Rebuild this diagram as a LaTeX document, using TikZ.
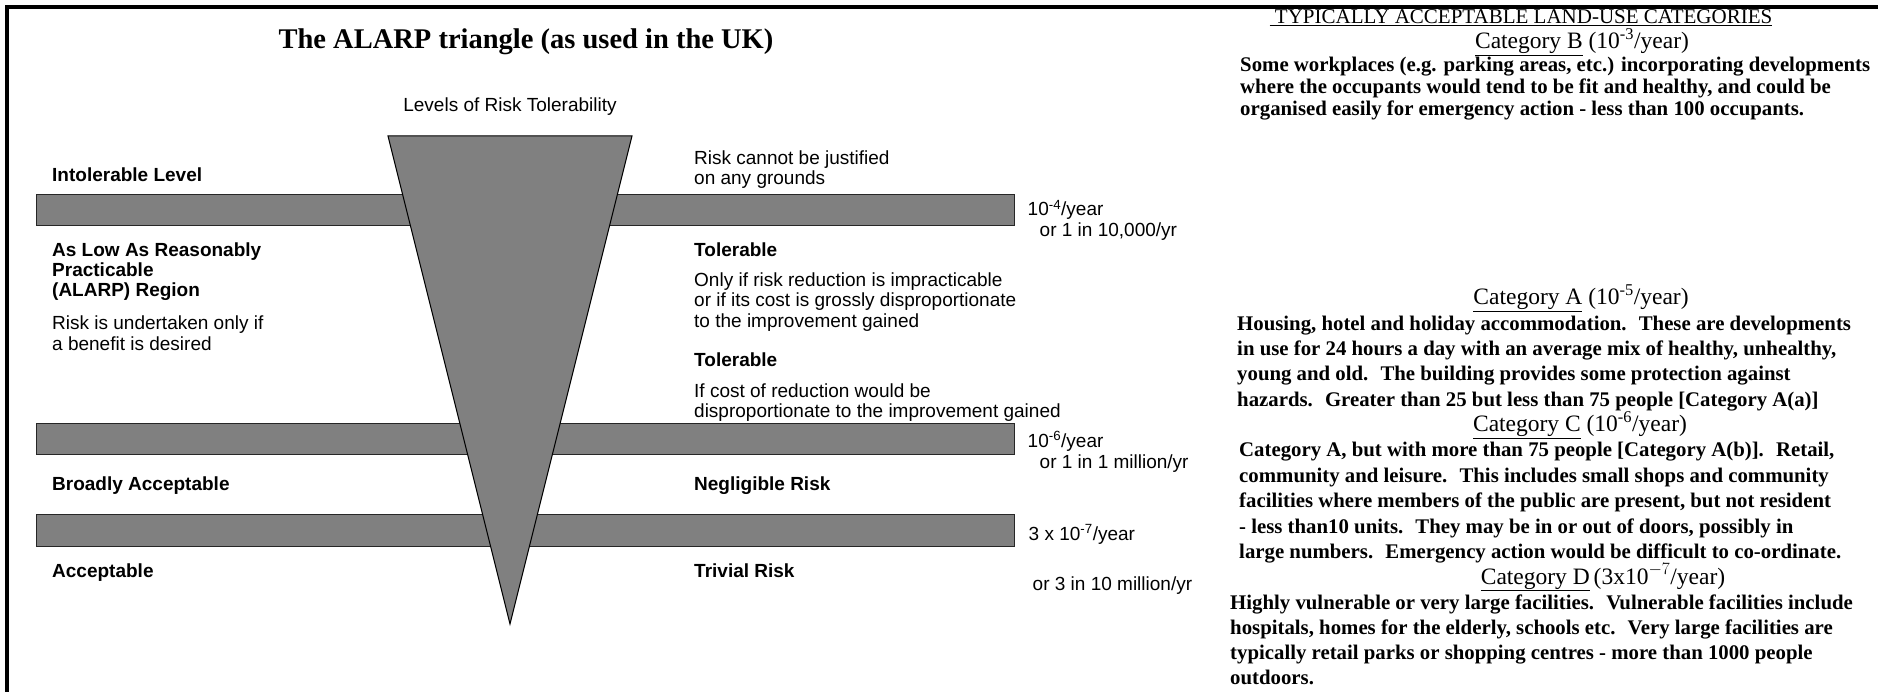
\documentclass[tikz,border=0pt]{standalone}
\usepackage{fontspec}
\setmainfont{Liberation Serif}
\setsansfont{Liberation Sans}
\usetikzlibrary{positioning}

\tikzset{
	band/.style={rectangle, draw=black!85, fill=gray, line width=1pt, minimum width=978, inner sep=0pt},
	txt/.style={anchor=base west, inner sep=0pt, font=\sffamily\fontsize{19}{20}\selectfont},
	txtb/.style={txt, font=\sffamily\bfseries\fontsize{19}{20}\selectfont},
	cat/.style={anchor=base, inner sep=0pt, font=\fontsize{23.5}{25}\selectfont},
	body/.style={anchor=base west, inner sep=0pt, font=\bfseries\fontsize{20.8}{25}\selectfont},
}

\begin{document}
\begin{tikzpicture}[x=1pt,y=-1pt]
		\useasboundingbox (0,0) rectangle (1878,692);
		\draw[line width=4pt] (7,692) -- (7,7) -- (1878,7);
		
		% bars
		\node [band, minimum height=31] (b1) at (525,210.5) {};
		\node [band, minimum height=31] (b2) at (525,438.5) {};
		\node [band, minimum height=32] (b3) at (525,530) {};
		
		% triangle
		\coordinate (tl) at (388,136);
		\coordinate (tr) at (632,136);
		\coordinate (ap) at (510,624);
		\filldraw[fill=gray, draw=black, line width=1pt] (tl) -- (tr) -- (ap) -- cycle;
		
		\node [anchor=base, inner sep=0pt, font=\bfseries\fontsize{28.5}{30}\selectfont] (t) at (526,49) {The ALARP triangle (as used in the UK)};
		\node [txt, anchor=base] (lv) at (510,112) {Levels of Risk Tolerability};
		
		% left column
		\node [txtb] (l1) at (52,182) {Intolerable Level};
		\node [txtb] (l2) at (52,257) {As Low As Reasonably};
		\node [txtb] (l3) at (52,277) {Practicable};
		\node [txtb] (l4) at (52,297) {(ALARP) Region};
		\node [txt] (l5) at (52,330) {Risk is undertaken only if};
		\node [txt] (l6) at (52,350) {a benefit is desired};
		\node [txtb] (l7) at (52,490) {Broadly Acceptable};
		\node [txtb] (l8) at (52,577) {Acceptable};
		
		% middle column
		\node [txt] (m1) at (694,165) {Risk cannot be justified};
		\node [txt] (m2) at (694,185) {on any grounds};
		\node [txtb] (m3) at (694,257) {Tolerable};
		\node [txt] (m4) at (694,287) {Only if risk reduction is impracticable};
		\node [txt] (m5) at (694,307) {or if its cost is grossly disproportionate};
		\node [txt] (m6) at (694,327) {to the improvement gained};
		\node [txtb] (m7) at (694,366) {Tolerable};
		\node [txt] (m8) at (694,397) {If cost of reduction would be};
		\node [txt] (m9) at (694,417) {disproportionate to the improvement gained};
		\node [txtb] (m10) at (694,490) {Negligible Risk};
		\node [txtb] (m11) at (694,577) {Trivial Risk};
		
		% frequencies
		\node [txt, shift={(13,5.5)}] (r1) at (b1.east) {10\textsuperscript{-4}/year};
		\node [txt, shift={(12,21)}] (r1b) at (r1.base west) {or 1 in 10,000/yr};
		\node [txt, shift={(13,8.5)}] (r2) at (b2.east) {10\textsuperscript{-6}/year};
		\node [txt, shift={(12,21)}] (r2b) at (r2.base west) {or 1 in 1 million/yr};
		\node [txt, shift={(14,10)}] (r3) at (b3.east) {3 x 10\textsuperscript{-7}/year};
		\node [txt, shift={(4,50)}] (r3b) at (r3.base west) {or 3 in 10 million/yr};
		
		% land-use categories
		\node [anchor=base, inner sep=0pt, font=\fontsize{21}{25}\selectfont] (hd) at (1521,24) {\underline{\ TYPICALLY ACCEPTABLE LAND-USE CATEGORIES}};
		
		\node [cat] (cb) at (1582,49) {\underline{Category B} (10\textsuperscript{-3}/year)};
		\foreach \ln [count=\k] in {{Some workplaces (e.g. parking areas, etc.) incorporating developments},
			{where the occupants would tend to be fit and healthy, and could be},
			{organised easily for emergency action - less than 100 occupants.}}
			\node [body] (pb\k) at (1240,50+22*\k) {\ln};
		
		\node [cat] (ca) at (1581,305) {\underline{Category A} (10\textsuperscript{-5}/year)};
		\foreach \ln [count=\k] in {{Housing, hotel and holiday accommodation.~ These are developments},
			{in use for 24 hours a day with an average mix of healthy, unhealthy,},
			{young and old.~ The building provides some protection against},
			{hazards.~ Greater than 25 but less than 75 people [Category A(a)]}}
			\node [body] (pa\k) at (1237,305+25.3*\k) {\ln};
		
		\node [cat] (cc) at (1580,431.5) {\underline{Category C} (10\textsuperscript{-6}/year)};
		\foreach \ln [count=\k] in {{Category A, but with more than 75 people [Category A(b)].~ Retail,},
			{community and leisure.~ This includes small shops and community},
			{facilities where members of the public are present, but not resident},
			{- less than10 units.~ They may be in or out of doors, possibly in},
			{large numbers.~ Emergency action would be difficult to co-ordinate.}}
			\node [body] (pc\k) at (1239,431.5+25.4*\k) {\ln};
		
		\node [cat] (cd) at (1603,584) {\underline{Category D}\,(3x10$^{-7}$/year)};
		\foreach \ln [count=\k] in {{Highly vulnerable or very large facilities.~ Vulnerable facilities include},
			{hospitals, homes for the elderly, schools etc.~ Very large facilities are},
			{typically retail parks or shopping centres - more than 1000 people},
			{outdoors.}}
			\node [body] (pd\k) at (1230,584+25.2*\k) {\ln};
	\end{tikzpicture}
\end{document}
